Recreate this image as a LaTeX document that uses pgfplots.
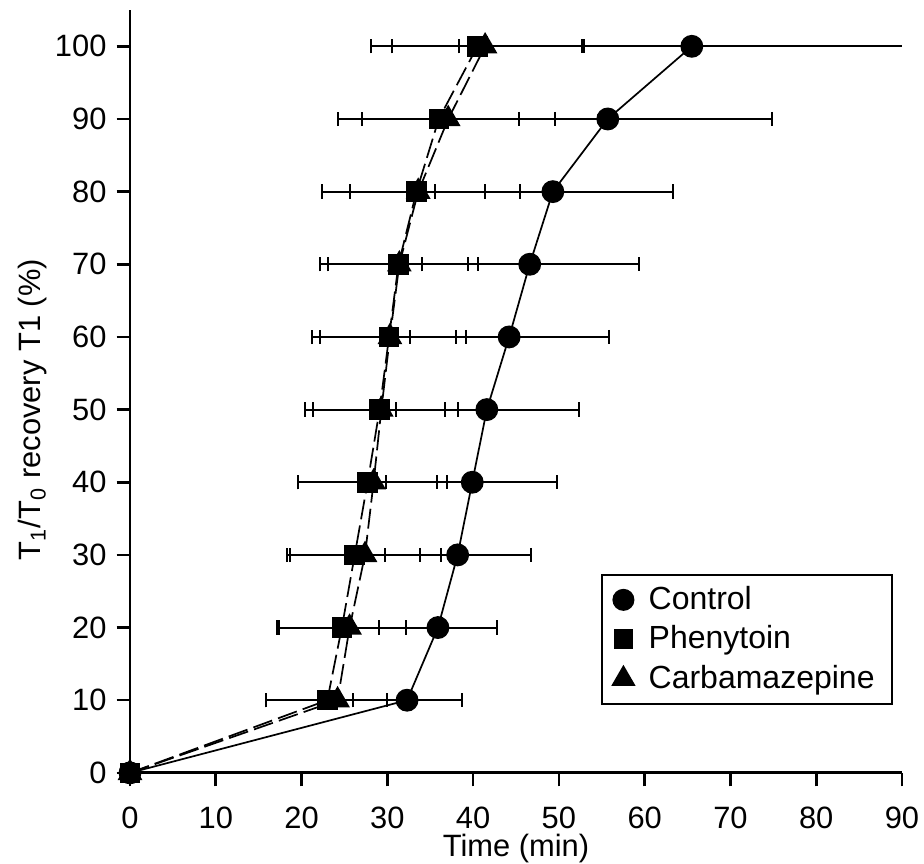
\documentclass[border=0pt]{standalone}
\usepackage{fontspec}
\setmainfont{Liberation Sans}
\usepackage{pgfplots}
\pgfplotsset{compat=1.18}

\newcommand{\chartfont}{\fontsize{10.8}{13}\selectfont}
\newcommand{\legendfont}{\fontsize{11.2}{13}\selectfont}

\begin{document}
\begin{tikzpicture}[font=\chartfont]
\begin{axis}[
    name=ax,
    scale only axis,
    width=270.2pt, height=267pt,
    xmin=0, xmax=90, ymin=0, ymax=105,
    axis lines*=left,
    axis line style={line width=1pt},
    xtick={0,10,...,90}, ytick={0,10,...,100},
    tick align=outside, xtick pos=left, ytick pos=left,
    major tick length=4.7pt,
    tick style={line width=0.9pt, black},
    /pgf/number format/assume math mode=true,
    tick label style={font=\chartfont},
    xticklabel style={yshift=-3.8pt},
    xlabel={Time (min)},
    xlabel style={at={(axis description cs:0.5,0)}, anchor=center, yshift=-26.6pt},
    ylabel={T\textsubscript{1}/T\textsubscript{0} recovery T1 (\%)},
    ylabel style={at={(axis description cs:-0.1258,0.476)}, anchor=center},
    legend style={at={(0.988,0.089)}, anchor=south east,
        draw=black, line width=0.7pt, font=\legendfont,
        row sep=0.2pt, inner xsep=4pt, inner ysep=2pt,
        /tikz/every odd column/.append style={column sep=3.2pt}},
    legend cell align=left,
    error bars/x dir=both, error bars/x explicit,
    error bars/error mark options={rotate=90, mark size=2.5pt, line width=0.7pt, solid},
    error bars/error bar style={line width=0.7pt, black, solid},
]
% Control
\addplot[black, line width=0.6pt, mark=*, mark size=3.7pt,
    mark options={solid, fill=black}, forget plot]
    table[x=x, y=y, x error minus=em, x error plus=ep] {
x    y   em    ep
0    0   0     0
32.3 10  6.3   6.4
35.9 20  6.9   6.9
38.2 30  8.5   8.6
39.9 40  10.0  9.9
41.6 50  10.6  10.7
44.2 60  11.5  11.6
46.6 70  12.6  12.7
49.3 80  13.8  14.0
55.7 90  19.2  19.2
65.5 100 27.1  27.1
};
% Phenytoin
\addplot[black, line width=0.6pt, dash pattern=on 7pt off 2.2pt,
    mark=square*, mark size=3.3pt, mark options={solid, fill=black}, forget plot]
    table[x=x, y=y, x error minus=em, x error plus=ep] {
x    y   em    ep
0    0   0     0
23.0 10  7.2   7.0
24.7 20  7.6   7.5
26.2 30  7.9   7.6
27.7 40  8.1   9.3
29.1 50  8.7   9.1
30.2 60  9.0   9.0
31.3 70  9.15  9.3
33.4 80  11.0  12.1
36.0 90  11.75 13.6
40.5 100 12.35 12.2
};
% Carbamazepine
\addplot[black, line width=0.6pt, dash pattern=on 7pt off 2.2pt,
    mark=triangle*, mark size=4.4pt, mark options={solid, fill=black}, forget plot]
    table[x=x, y=y, x error minus=em, x error plus=ep] {
x    y   em    ep
0    0   0     0
24.2 10  8.4   5.8
25.6 20  8.2   6.6
27.4 30  8.75  8.9
28.4 40  8.8   7.4
29.3 50  8.0   7.4
30.3 60  8.15  7.7
31.4 70  8.3   8.0
33.6 80  7.95  7.8
37.1 90  10.1  8.3
41.4 100 10.9  11.5
};
\addlegendimage{only marks, black, mark=*, mark size=3.5pt}
\addlegendentry{Control}
\addlegendimage{only marks, black, mark=square*, mark size=3.1pt}
\addlegendentry{Phenytoin}
\addlegendimage{only marks, black, mark=triangle*, mark size=4.2pt}
\addlegendentry{Carbamazepine}
\end{axis}
\pgfresetboundingbox
\path ([xshift=-45.5pt, yshift=-31.85pt]ax.south west)
    rectangle ([xshift=7.7pt, yshift=3.5pt]ax.north east);
\end{tikzpicture}
\end{document}
